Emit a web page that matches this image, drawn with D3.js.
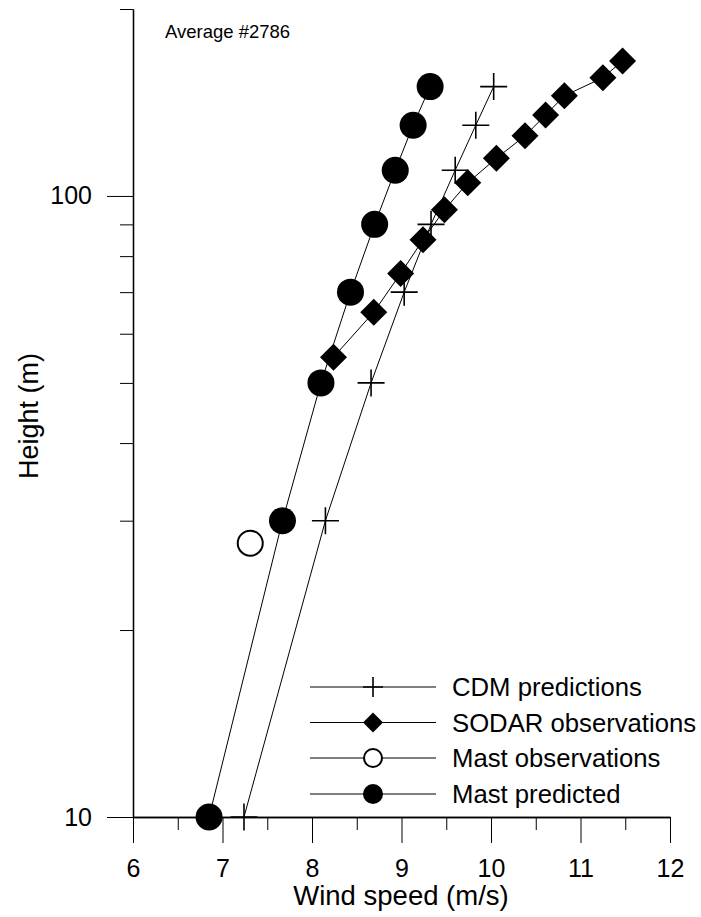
<!DOCTYPE html>
<html>
<head>
<meta charset="utf-8">
<script src="https://cdn.jsdelivr.net/npm/d3@7"></script>
<style>
  html, body { margin: 0; padding: 0; background: #fff; }
  svg { display: block; font-family: "Liberation Sans", Arial, Helvetica, sans-serif; }
</style>
</head>
<body>
<svg id="chart" width="701" height="917"></svg>
<script>
// Wind-speed profiles: height (m) against mean wind speed (m/s)
const cdmHeights = [10, 30, 50, 70, 90, 110, 130, 150];
const cdmSpeeds = [7.24, 8.15, 8.66, 9.03, 9.33, 9.60, 9.83, 10.03];

const sodarHeights = [55, 65, 75, 85, 95, 105, 115, 125, 135, 145, 155, 165];
const sodarSpeeds = [8.24, 8.69, 8.99, 9.24, 9.48, 9.74, 10.06, 10.38, 10.61, 10.82, 11.25, 11.47];

const mastObsHeights = [27.6];
const mastObsSpeeds = [7.31];

const mastPredHeights = [10, 30, 50, 70, 90, 110, 130, 150];
const mastPredSpeeds = [6.85, 7.67, 8.10, 8.43, 8.70, 8.93, 9.13, 9.32];

const xMajorTicks = [6, 7, 8, 9, 10, 11, 12];
const xMinorTicks = [6.5, 7.5, 8.5, 9.5, 10.5, 11.5];
const yMajorTicks = [10, 100];
const yMinorTicks = [20, 30, 40, 50, 60, 70, 80, 90, 200];

const legendLabels = ["CDM predictions", "SODAR observations", "Mast observations", "Mast predicted"];
const titleText = "Average #2786";

const svg = d3.select("#chart");

const x = d3.scaleLinear().domain([6, 12]).range([133, 670]);
const y = d3.scaleLog().domain([10, 200]).range([817, 9]);

const zip = (hs, vs) => hs.map((h, i) => ({ h, v: vs[i] }));
const cdm = zip(cdmHeights, cdmSpeeds);
const sodar = zip(sodarHeights, sodarSpeeds);
const mastObs = zip(mastObsHeights, mastObsSpeeds);
const mastPred = zip(mastPredHeights, mastPredSpeeds);

// ---- axes ----
function styleAxis(g) {
  g.attr("font-size", 25).attr("font-family", null);
  g.selectAll("path.domain").attr("stroke", "#000").attr("stroke-width", 1.3);
  g.selectAll(".tick line").attr("stroke", "#000").attr("stroke-width", 1);
  g.selectAll("text").attr("fill", "#000");
}

// x axis: minor ticks, then major ticks with labels
svg.append("g")
  .attr("transform", "translate(0,817)")
  .call(d3.axisBottom(x).tickValues(xMinorTicks).tickSize(13).tickSizeOuter(0).tickFormat(""))
  .call(styleAxis);
svg.append("g")
  .attr("transform", "translate(0,817)")
  .call(d3.axisBottom(x).tickValues(xMajorTicks).tickSize(26).tickSizeOuter(0).tickPadding(16).tickFormat(d3.format("d")))
  .call(styleAxis);

// y axis (log)
svg.append("g")
  .attr("transform", "translate(133,0)")
  .call(d3.axisLeft(y).tickValues(yMinorTicks).tickSize(13).tickSizeOuter(0).tickFormat(""))
  .call(styleAxis);
svg.append("g")
  .attr("transform", "translate(133,0)")
  .call(d3.axisLeft(y).tickValues(yMajorTicks).tickSize(26).tickSizeOuter(0).tickPadding(15).tickFormat(d3.format("d")))
  .call(styleAxis);

// axis titles
svg.append("text")
  .attr("x", 401).attr("y", 905)
  .attr("text-anchor", "middle")
  .attr("font-size", 27.5)
  .text("Wind speed (m/s)");

svg.append("text")
  .attr("transform", "translate(38,416) rotate(-90)")
  .attr("text-anchor", "middle")
  .attr("font-size", 27)
  .text("Height (m)");

svg.append("text")
  .attr("x", 165).attr("y", 38)
  .attr("font-size", 18.5)
  .text(titleText);

// ---- series ----
const line = d3.line().x(d => x(d.v)).y(d => y(d.h));

function drawLine(data) {
  svg.append("path")
    .datum(data)
    .attr("d", line)
    .attr("fill", "none")
    .attr("stroke", "#000")
    .attr("stroke-width", 1);
}

function plus(g, cx, cy, size) {
  const h = size / 2;
  g.append("path")
    .attr("d", `M${cx - h},${cy}H${cx + h}M${cx},${cy - h}V${cy + h}`)
    .attr("stroke", "#000").attr("stroke-width", 1.6).attr("fill", "none");
}
function diamond(g, cx, cy, size) {
  const h = size / 2;
  g.append("path")
    .attr("d", `M${cx},${cy - h}L${cx + h},${cy}L${cx},${cy + h}L${cx - h},${cy}Z`)
    .attr("fill", "#000");
}
function openCircle(g, cx, cy, size) {
  g.append("circle").attr("cx", cx).attr("cy", cy).attr("r", size / 2 - 1)
    .attr("fill", "#fff").attr("stroke", "#000").attr("stroke-width", 2);
}
function filledCircle(g, cx, cy, size) {
  g.append("circle").attr("cx", cx).attr("cy", cy).attr("r", size / 2).attr("fill", "#000");
}

const markSize = 27;

// CDM predictions
drawLine(cdm);
const gCdm = svg.append("g");
cdm.forEach(d => plus(gCdm, x(d.v), y(d.h), markSize));

// SODAR observations
drawLine(sodar);
const gSodar = svg.append("g");
sodar.forEach(d => diamond(gSodar, x(d.v), y(d.h), markSize));

// Mast observations
const gObs = svg.append("g");
mastObs.forEach(d => openCircle(gObs, x(d.v), y(d.h), markSize));

// Mast predicted
drawLine(mastPred);
const gPred = svg.append("g");
mastPred.forEach(d => filledCircle(gPred, x(d.v), y(d.h), markSize));

// ---- legend ----
const legendRowsY = [687, 722.5, 758, 794];
const markers = [plus, diamond, openCircle, filledCircle];
const gLegend = svg.append("g");
legendLabels.forEach((label, i) => {
  const ly = legendRowsY[i];
  gLegend.append("line")
    .attr("x1", 310).attr("x2", 436).attr("y1", ly).attr("y2", ly)
    .attr("stroke", "#000").attr("stroke-width", 1);
  markers[i](gLegend, 373, ly, 20);
  gLegend.append("text")
    .attr("x", 452).attr("y", ly).attr("dy", "0.36em")
    .attr("font-size", 25.7)
    .text(label);
});
</script>
</body>
</html>
